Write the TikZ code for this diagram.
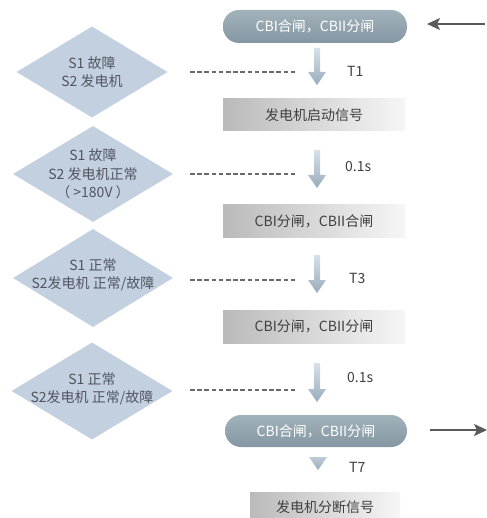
\documentclass[tikz,border=0pt]{standalone}
\usepackage{fontspec}
\setmainfont{Noto Sans CJK SC}
\usetikzlibrary{shapes.geometric,arrows.meta}
\definecolor{diafill}{HTML}{C3D0E0}
\definecolor{diatext}{HTML}{505560}
\definecolor{pilltop}{HTML}{A2B2BB}
\definecolor{pillbot}{HTML}{8497A2}
\definecolor{boxl}{HTML}{BABABA}
\definecolor{boxr}{HTML}{F6F6F6}
\definecolor{boxtext}{HTML}{404040}
\definecolor{arrtop}{HTML}{D8E1E8}
\definecolor{arrbot}{HTML}{98ACBB}
\definecolor{dashc}{HTML}{6A6A6A}
\definecolor{linec}{HTML}{5A5A5A}
\newcommand\dnarrow[3]{%
  \path[top color=arrtop,bottom color=arrbot]
    (#1-3,#2) -- (#1+3,#2) -- (#1+3,#3-13) -- (#1+9,#3-13) -- (#1,#3)
    -- (#1-9,#3-13) -- (#1-3,#3-13) -- cycle;}
\begin{document}
\begin{tikzpicture}[x=1pt,y=-1pt,
  txt/.style={font=\fontsize{14}{18.5}\selectfont},
  dia/.style={diamond,fill=diafill,inner sep=0pt},
  diatxt/.style={txt,text=diatext,align=center},
  pill/.style={rectangle,rounded corners=16pt,top color=pilltop,bottom color=pillbot,
    text=white,txt,inner sep=0pt},
  gbox/.style={rectangle,left color=boxl,right color=boxr,text=boxtext,txt,inner sep=0pt},
  dashln/.style={dashc,dash pattern=on 4.5pt off 2.7pt,line width=1.5pt},
  lab/.style={txt,text=boxtext,anchor=west,inner sep=0pt},
  sidearrow/.style={linec,line width=1.6pt,-{Stealth[length=13pt,width=12pt,inset=3pt]}}]
\useasboundingbox (0,0) rectangle (486,518);
\fill[white] (0,0) rectangle (486,518);

% diamonds
\node[dia,minimum width=151pt,minimum height=91pt] (d1) at (92,72) {};
\node[diatxt] (t1) at (d1.center) {S1 故障\\S2 发电机};
\node[dia,minimum width=160pt,minimum height=96pt] (d2) at (93,174) {};
\node[diatxt] (t2) at (d2.center) {S1 故障\\S2 发电机正常\\（ >180V ）};
\node[dia,minimum width=160pt,minimum height=98pt] (d3) at (93,278) {};
\node[diatxt] (t3) at ([yshift=3pt]d3.center) {S1 正常\\S2发电机 正常/故障};
\node[dia,minimum width=161pt,minimum height=97pt] (d4) at (92,391) {};
\node[diatxt] (t4) at ([yshift=2pt]d4.center) {S1 正常\\S2发电机 正常/故障};

% pills and boxes
\node[pill,minimum width=184pt,minimum height=33pt] (p1) at (315,26.5) {CBI合闸，CBII分闸};
\node[gbox,minimum width=182pt,minimum height=32pt] (b1) at (314,115) {发电机启动信号};
\node[gbox,minimum width=182pt,minimum height=32pt] (b2) at (314,221) {CBI分闸，CBII合闸};
\node[gbox,minimum width=182pt,minimum height=33pt] (b3) at (314,326.5) {CBI分闸，CBII分闸};
\node[pill,minimum width=182pt,minimum height=32pt] (p2) at (316,431) {CBI合闸，CBII分闸};
\node[gbox,minimum width=150pt,minimum height=30pt] (b4) at (325,507) {发电机分断信号};

% dashed leaders
\coordinate (e1) at (297,72);
\coordinate (e2) at (297,174);
\coordinate (e3) at (297,280);
\coordinate (e4) at (297,390);
\draw[dashln] (e1 -| {190,0}) -- (e1);
\draw[dashln] (e2 -| {190,0}) -- (e2);
\draw[dashln] (e3 -| {190,0}) -- (e3);
\draw[dashln] (e4 -| {190,0}) -- (e4);

% down arrows
\dnarrow{317}{48}{85}
\dnarrow{317}{150}{188}
\dnarrow{317}{255}{293}
\dnarrow{317}{363}{402}
\path[top color=arrtop!60!arrbot,bottom color=arrbot] (309,457) -- (327,457) -- (318,470) -- cycle;

% labels
\node[lab] (l1) at (347,71) {T1};
\node[lab] (l2) at (345,167) {0.1s};
\node[lab] (l3) at (349,278) {T3};
\node[lab] (l4) at (347,378) {0.1s};
\node[lab] (l5) at (349,467) {T7};

% side arrows
\coordinate (in) at (485,24);
\coordinate (out) at (487,430);
\draw[sidearrow] (in) -- (in -| {427,0});
\draw[sidearrow] (out -| {430,0}) -- (out);
\end{tikzpicture}
\end{document}
